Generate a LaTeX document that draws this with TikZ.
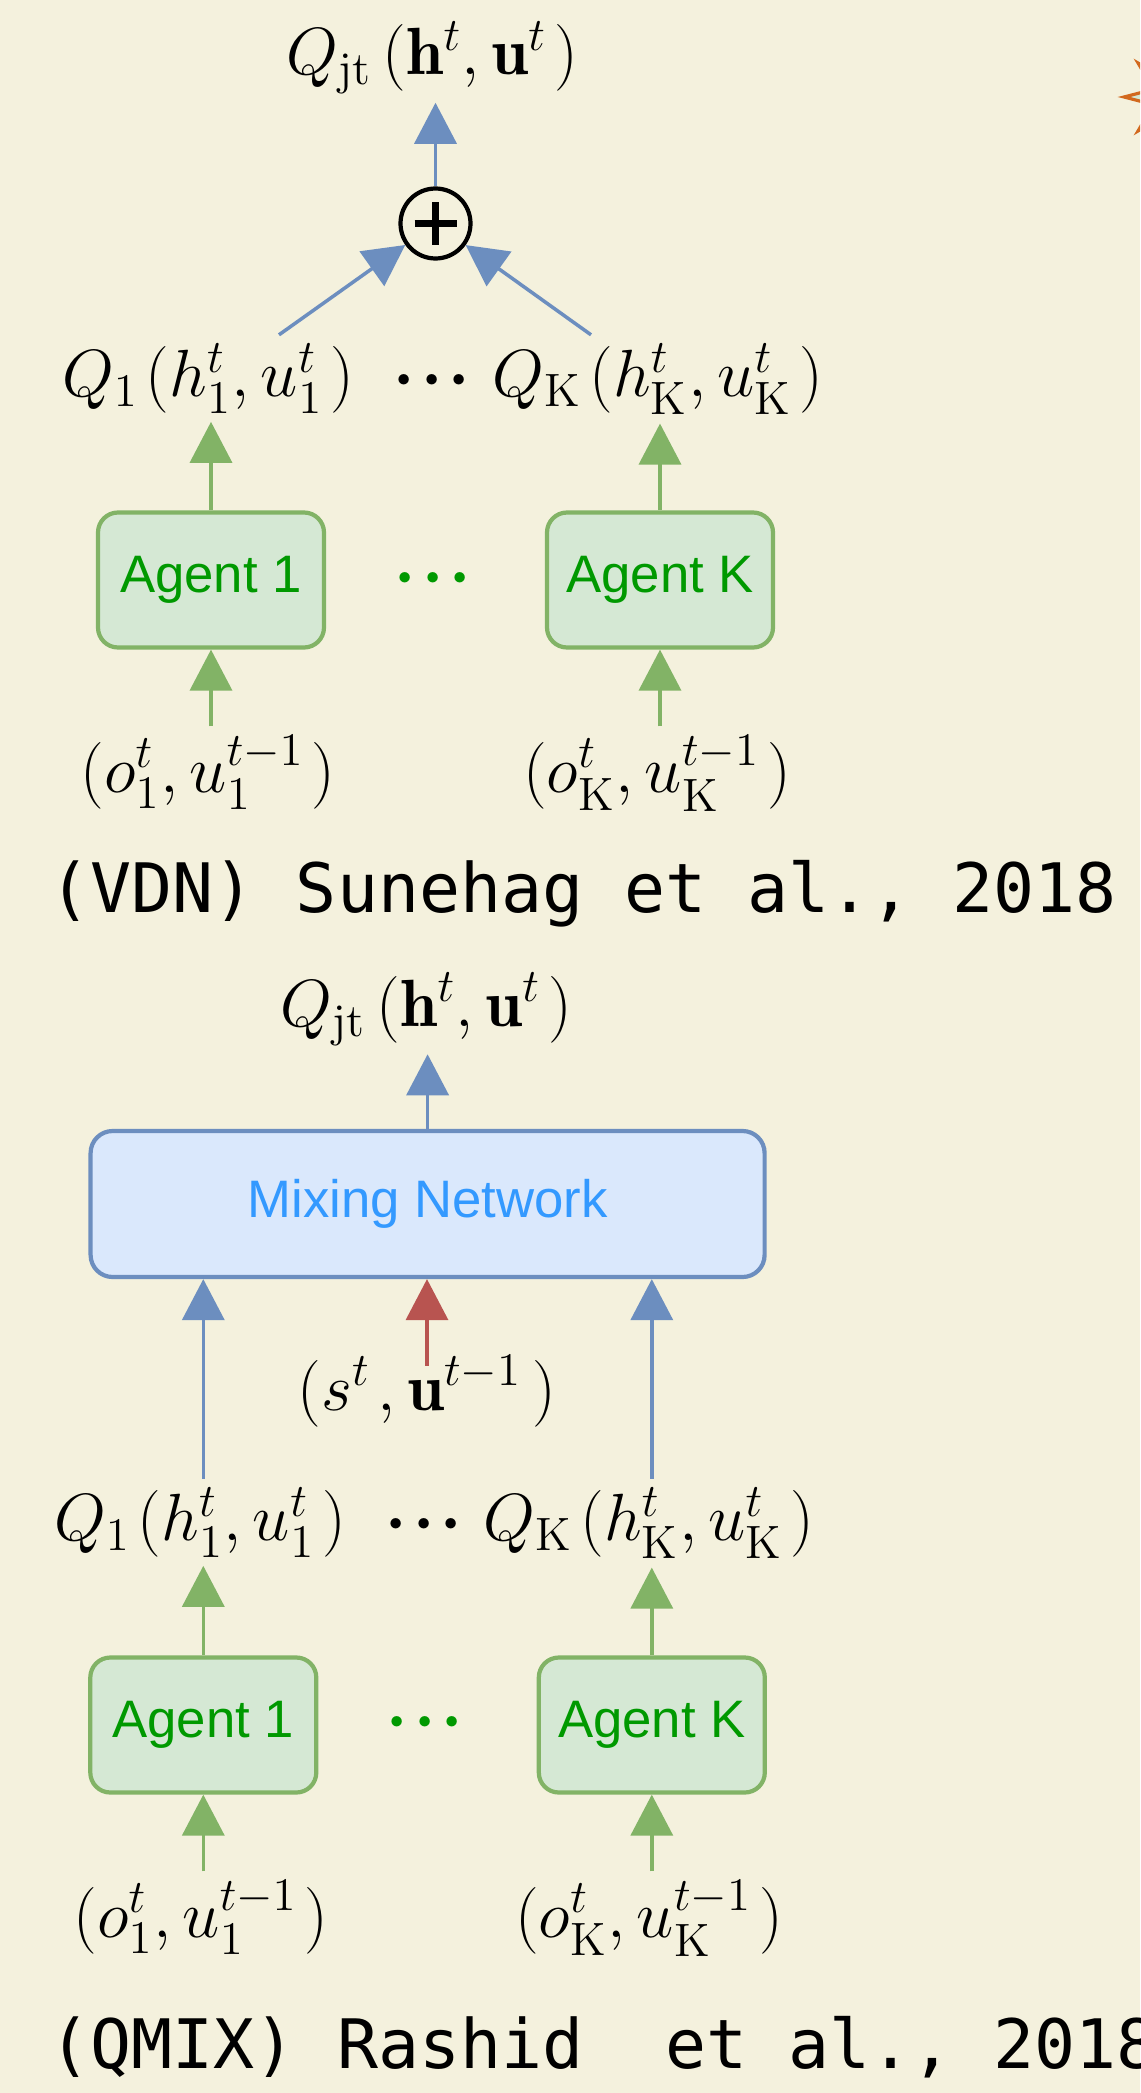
\RequirePackage{fix-cm}
\documentclass[tikz,border=0pt]{standalone}
\usepackage{amsmath, amssymb}
\usepackage{fontspec}
\usepackage{xcolor}
\usetikzlibrary{arrows.meta, shapes.geometric}

\newfontfamily\boxfont{Liberation Sans}
\newfontfamily\citefont{DejaVu Sans Mono}

\definecolor{bgcream}{HTML}{F4F1DD}
\definecolor{agentfill}{HTML}{D5E8D4}
\definecolor{agentline}{HTML}{82B366}
\definecolor{agenttext}{HTML}{009900}
\definecolor{mixfill}{HTML}{DAE8FC}
\definecolor{mixline}{HTML}{6C8EBF}
\definecolor{mixtext}{HTML}{3399FF}
\definecolor{statered}{HTML}{B85450}
\definecolor{starline}{HTML}{D2691E}

% row of three heavy dots between the agents
\newcommand{\dotrow}{{\boldmath$\mathord{\cdot}\mkern1.5mu\mathord{\cdot}\mkern1.5mu\mathord{\cdot}$}}

\begin{document}
\begin{tikzpicture}[
    mathlbl/.style={font=\fontsize{19}{23}\selectfont, inner sep=0.08cm, anchor=base},
    agentbox/.style={draw=agentline, fill=agentfill, line width=1.2pt, rounded corners=0.2cm,
        minimum width=2.26cm, minimum height=1.35cm, text=agenttext, font=\boxfont\fontsize{15}{18}\selectfont},
    mixbox/.style={draw=mixline, fill=mixfill, line width=1.2pt, rounded corners=0.22cm,
        minimum width=6.74cm, minimum height=1.46cm, text=mixtext, font=\boxfont\fontsize{15}{18}\selectfont},
    citelbl/.style={font=\citefont\fontsize{19.4}{23}\selectfont\frenchspacing, inner sep=0, anchor=base west},
    qarrow/.style={draw=mixline, line width=1pt, -{Triangle[length=0.41cm, width=0.42cm]}},
    garrow/.style={qarrow, draw=agentline},
    sarrow/.style={qarrow, draw=statered},
]
    % page and background
    \useasboundingbox (0,0) rectangle (11.4,-20.93);
    \fill[bgcream] (0,0) rectangle (11.4,-20.93);
    \begin{scope}
        \clip (0,0) rectangle (11.4,-20.93);
        \node[star, star points=8, star point ratio=2.4, minimum size=0.96cm, inner sep=0,
            draw=starline, fill=agentfill, line width=0.9pt] (spark) at (11.72,-0.97) {};
    \end{scope}

    % VDN: sum of the agent values
    \node[mathlbl] (qjta) at (4.32,-0.745) {$Q_{\mathrm{jt}}\mkern3mu(\mathbf{h}^t,\mathbf{u}^t\mkern2mu)$};
    \node[circle, draw, line width=1.2pt, minimum size=0.70cm, inner sep=0,
        path picture={\draw[line width=2pt] (path picture bounding box.center) +(-0.21,0) -- +(0.21,0)
            (path picture bounding box.center) +(0,-0.21) -- +(0,0.21);}] (plus) at (4.355,-2.235) {};
    \node[mathlbl] (q1a) at (2.08,-3.965) {$Q_1\mkern2mu(h^t_1,u^t_1\mkern2mu)$};
    \node[mathlbl] (dotsa) at (4.32,-3.965) {\dotrow};
    \node[mathlbl] (qka) at (6.58,-3.965) {$Q_{\mathrm{K}}\mkern2mu(h^t_{\mathrm{K}},u^t_{\mathrm{K}}\mkern2mu)$};
    \node[agentbox] (ag1a) at (2.11,-5.80) {Agent 1};
    \node[mathlbl, anchor=center, text=agenttext] (gdotsa) at (4.33,-5.79) {\dotrow};
    \node[agentbox] (agka) at (6.60,-5.80) {Agent K};
    \node[mathlbl] (in1a) at (2.08,-7.92) {$(o^t_1,u^{t-1}_1\mkern2mu)$};
    \node[mathlbl] (inka) at (6.57,-7.92) {$(o^t_{\mathrm{K}},u^{t-1}_{\mathrm{K}}\mkern2mu)$};
    \node[citelbl] (vdncap) at (0.49,-9.12) {(VDN) Sunehag et al., 2018};

    \draw[qarrow] (plus.north) -- (plus.north |- qjta.south);
    \draw[qarrow] ([xshift=0.71cm]q1a.north) -- (plus);
    \draw[qarrow] ([xshift=-0.67cm]qka.north) -- (plus);
    \draw[garrow] (ag1a.north) -- (ag1a.north |- q1a.south);
    \draw[garrow] (agka.north) -- (agka.north |- qka.south);
    \draw[garrow] (in1a.north -| ag1a) -- (ag1a.south);
    \draw[garrow] (inka.north -| agka) -- (agka.south);

    % QMIX: mixing network conditioned on the state
    \node[mathlbl] (qjtb) at (4.26,-10.26) {$Q_{\mathrm{jt}}\mkern3mu(\mathbf{h}^t,\mathbf{u}^t\mkern2mu)$};
    \node[mixbox] (mix) at (4.276,-12.04) {Mixing Network};
    \node[mathlbl] (state) at (4.27,-14.10) {$(s^t\mkern2mu,\mathbf{u}^{t-1}\mkern3mu)$};
    \node[mathlbl] (q1b) at (2.00,-15.405) {$Q_1\mkern2mu(h^t_1,u^t_1\mkern2mu)$};
    \node[mathlbl] (dotsb) at (4.24,-15.405) {\dotrow};
    \node[mathlbl] (qkb) at (6.49,-15.405) {$Q_{\mathrm{K}}\mkern2mu(h^t_{\mathrm{K}},u^t_{\mathrm{K}}\mkern2mu)$};
    \node[agentbox] (ag1b) at (2.033,-17.25) {Agent 1};
    \node[mathlbl, anchor=center, text=agenttext] (gdotsb) at (4.25,-17.225) {\dotrow};
    \node[agentbox] (agkb) at (6.518,-17.25) {Agent K};
    \node[mathlbl] (in1b) at (2.01,-19.37) {$(o^t_1,u^{t-1}_1\mkern2mu)$};
    \node[mathlbl] (inkb) at (6.49,-19.37) {$(o^t_{\mathrm{K}},u^{t-1}_{\mathrm{K}}\mkern2mu)$};
    \node[citelbl] (qmixcap) at (0.49,-20.68) {(QMIX) Rashid\ \ et al., 2018};

    \draw[qarrow] (mix.north) -- (mix.north |- qjtb.south);
    \draw[qarrow] (q1b.north -| ag1b) -- (ag1b |- mix.south);
    \draw[qarrow] (qkb.north -| agkb) -- (agkb |- mix.south);
    \draw[sarrow] ([yshift=-0.19cm]state.north) -- (state.north |- mix.south);
    \draw[garrow] (ag1b.north) -- (ag1b.north |- q1b.south);
    \draw[garrow] (agkb.north) -- (agkb.north |- qkb.south);
    \draw[garrow] (in1b.north -| ag1b) -- (ag1b.south);
    \draw[garrow] (inkb.north -| agkb) -- (agkb.south);
\end{tikzpicture}
\end{document}
